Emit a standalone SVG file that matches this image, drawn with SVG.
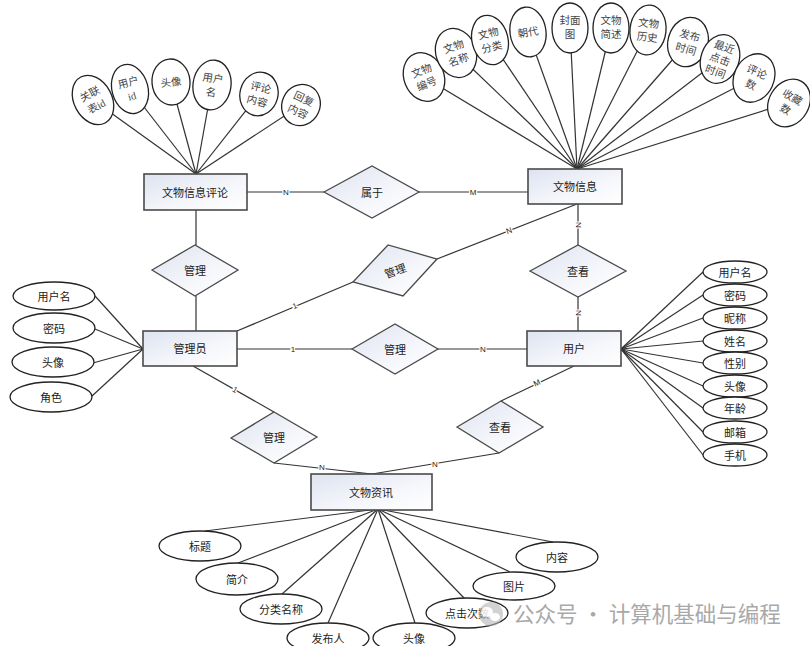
<svg xmlns="http://www.w3.org/2000/svg" width="810" height="646" viewBox="0 0 810 646">
<defs>
<linearGradient id="g" x1="0" y1="0" x2="1" y2="1">
<stop offset="0" stop-color="#dde3f0"/>
<stop offset="0.6" stop-color="#f6f7fb"/>
<stop offset="1" stop-color="#ffffff"/>
</linearGradient>
<style>
.box{fill:url(#g);stroke:#4a4a4a;stroke-width:1.6}
.dia{fill:url(#g);stroke:#4a4a4a;stroke-width:1.3}
.att{fill:#fff;stroke:#222;stroke-width:1.3}
.ln{stroke:#333;stroke-width:1.2;fill:none}
.t{font-family:"Noto Sans CJK SC","Liberation Sans",sans-serif;font-size:11px;fill:#222;text-anchor:middle;dominant-baseline:central}
.s{font-family:"Liberation Serif","Noto Sans CJK SC",serif;font-size:10.5px;fill:#444;text-anchor:middle}
.c{font-family:"Liberation Sans",sans-serif;font-size:8px;fill:#222;text-anchor:middle;dominant-baseline:central;stroke:#fff;stroke-width:2.5;paint-order:stroke}
.wm{font-family:"Noto Sans CJK SC",sans-serif;font-size:21.5px;fill:#9a9a9a}
</style>
</defs>
<rect width="810" height="646" fill="#fff"/>

<g id="connectors">
<!-- 文物信息评论 attributes -->
<line class="ln" x1="93" y1="100" x2="196" y2="174"/>
<line class="ln" x1="130" y1="89" x2="196" y2="174"/>
<line class="ln" x1="171" y1="82" x2="196" y2="174"/>
<line class="ln" x1="212" y1="85" x2="196" y2="174"/>
<line class="ln" x1="259" y1="94" x2="196" y2="174"/>
<line class="ln" x1="301" y1="105" x2="196" y2="174"/>
<!-- 文物信息 attributes -->
<line class="ln" x1="424" y1="77" x2="577" y2="169"/>
<line class="ln" x1="456" y1="53" x2="577" y2="169"/>
<line class="ln" x1="490" y1="40" x2="577" y2="169"/>
<line class="ln" x1="528" y1="32" x2="577" y2="169"/>
<line class="ln" x1="570" y1="28" x2="577" y2="169"/>
<line class="ln" x1="611" y1="28" x2="577" y2="169"/>
<line class="ln" x1="648" y1="30" x2="577" y2="169"/>
<line class="ln" x1="688" y1="42" x2="577" y2="169"/>
<line class="ln" x1="720" y1="59" x2="577" y2="169"/>
<line class="ln" x1="754" y1="78" x2="577" y2="169"/>
<line class="ln" x1="788" y1="103" x2="577" y2="169"/>
<!-- 管理员 attributes -->
<line class="ln" x1="95" y1="296" x2="143" y2="349"/>
<line class="ln" x1="95" y1="329" x2="143" y2="349"/>
<line class="ln" x1="93" y1="363" x2="143" y2="349"/>
<line class="ln" x1="92" y1="396" x2="143" y2="349"/>
<!-- 用户 attributes -->
<line class="ln" x1="621" y1="349" x2="703" y2="272"/>
<line class="ln" x1="621" y1="349" x2="703" y2="295"/>
<line class="ln" x1="621" y1="349" x2="703" y2="318"/>
<line class="ln" x1="621" y1="349" x2="703" y2="341"/>
<line class="ln" x1="621" y1="349" x2="703" y2="363"/>
<line class="ln" x1="621" y1="349" x2="703" y2="386"/>
<line class="ln" x1="621" y1="349" x2="703" y2="408"/>
<line class="ln" x1="621" y1="349" x2="703" y2="432"/>
<line class="ln" x1="621" y1="349" x2="703" y2="455"/>
<!-- 文物资讯 attributes -->
<line class="ln" x1="378" y1="509" x2="205" y2="531"/>
<line class="ln" x1="378" y1="509" x2="238" y2="563"/>
<line class="ln" x1="378" y1="509" x2="282" y2="594"/>
<line class="ln" x1="378" y1="509" x2="328" y2="623"/>
<line class="ln" x1="378" y1="509" x2="415" y2="623"/>
<line class="ln" x1="378" y1="509" x2="465" y2="599"/>
<line class="ln" x1="378" y1="509" x2="510" y2="572"/>
<line class="ln" x1="378" y1="509" x2="553" y2="542"/>
<!-- relationships -->
<line class="ln" x1="247" y1="192" x2="324" y2="192"/>
<line class="ln" x1="419" y1="192" x2="528" y2="192"/>
<line class="ln" x1="196" y1="210" x2="196" y2="245"/>
<line class="ln" x1="196" y1="296" x2="196" y2="331"/>
<line class="ln" x1="237" y1="331" x2="353" y2="282"/>
<line class="ln" x1="437" y1="259" x2="577" y2="204"/>
<line class="ln" x1="578" y1="204" x2="578" y2="245"/>
<line class="ln" x1="578" y1="297" x2="578" y2="331"/>
<line class="ln" x1="237" y1="349" x2="352" y2="349"/>
<line class="ln" x1="438" y1="349" x2="527" y2="349"/>
<line class="ln" x1="193" y1="366" x2="274" y2="412"/>
<line class="ln" x1="274" y1="463" x2="372" y2="474"/>
<line class="ln" x1="574" y1="366" x2="501" y2="401"/>
<line class="ln" x1="499" y1="453" x2="372" y2="474"/>
<!-- cardinalities -->
<text class="c" x="286" y="192">N</text>
<text class="c" x="473" y="192">M</text>
<text class="c" x="295" y="306" transform="rotate(-22 295 306)">1</text>
<text class="c" x="509" y="231" transform="rotate(-20 509 231)">N</text>
<text class="c" x="578" y="225" transform="rotate(90 578 225)">N</text>
<text class="c" x="578" y="313" transform="rotate(90 578 313)">N</text>
<text class="c" x="293" y="349">1</text>
<text class="c" x="483" y="349">N</text>
<text class="c" x="235" y="390" transform="rotate(30 235 390)">1</text>
<text class="c" x="322" y="467">N</text>
<text class="c" x="537" y="383" transform="rotate(-25 537 383)">M</text>
<text class="c" x="435" y="464">N</text>
</g>

<!-- 文物信息评论 attributes -->
<g id="a_glbid"><ellipse class="att" cx="93" cy="100" rx="19" ry="26" transform="rotate(-28 93 100)"/><text class="s" transform="translate(93 100) rotate(-28)"><tspan x="0" y="-3">关联</tspan><tspan x="0" y="11">表id</tspan></text></g>
<g id="a_yhid"><ellipse class="att" cx="130" cy="89" rx="18" ry="25" transform="rotate(-15 130 89)"/><text class="s" transform="translate(130 89) rotate(-15)"><tspan x="0" y="-3">用户</tspan><tspan x="0" y="11">id</tspan></text></g>
<g id="a_tx1"><ellipse class="att" cx="171" cy="82" rx="19" ry="23" transform="rotate(-5 171 82)"/><text class="s" x="171" y="86" transform="rotate(-5 171 82)">头像</text></g>
<g id="a_yhm1"><ellipse class="att" cx="212" cy="85" rx="19" ry="25" transform="rotate(8 212 85)"/><text class="s" transform="translate(212 85) rotate(8)"><tspan x="0" y="-3">用户</tspan><tspan x="0" y="11">名</tspan></text></g>
<g id="a_plnr"><ellipse class="att" cx="259" cy="94" rx="19" ry="22" transform="rotate(15 259 94)"/><text class="s" transform="translate(259 94) rotate(15)"><tspan x="0" y="-3">评论</tspan><tspan x="0" y="11">内容</tspan></text></g>
<g id="a_hfnr"><ellipse class="att" cx="301" cy="105" rx="19" ry="21" transform="rotate(25 301 105)"/><text class="s" transform="translate(301 105) rotate(25)"><tspan x="0" y="-3">回复</tspan><tspan x="0" y="11">内容</tspan></text></g>

<!-- 文物信息 attributes -->
<g id="a_wwbh"><ellipse class="att" cx="424" cy="77" rx="20" ry="25" transform="rotate(-22 424 77)"/><text class="s" transform="translate(424 77) rotate(-22)"><tspan x="0" y="-3">文物</tspan><tspan x="0" y="11">编号</tspan></text></g>
<g id="a_wwmc"><ellipse class="att" cx="456" cy="53" rx="20" ry="25" transform="rotate(-20 456 53)"/><text class="s" transform="translate(456 53) rotate(-20)"><tspan x="0" y="-3">文物</tspan><tspan x="0" y="11">名称</tspan></text></g>
<g id="a_wwfl"><ellipse class="att" cx="490" cy="40" rx="18" ry="25" transform="rotate(-14 490 40)"/><text class="s" transform="translate(490 40) rotate(-14)"><tspan x="0" y="-3">文物</tspan><tspan x="0" y="11">分类</tspan></text></g>
<g id="a_cd"><ellipse class="att" cx="528" cy="32" rx="18" ry="25" transform="rotate(-8 528 32)"/><text class="s" x="528" y="36" transform="rotate(-8 528 32)">朝代</text></g>
<g id="a_fmt"><ellipse class="att" cx="570" cy="28" rx="18" ry="25"/><text class="s"><tspan x="570" y="24">封面</tspan><tspan x="570" y="38">图</tspan></text></g>
<g id="a_wwjs"><ellipse class="att" cx="611" cy="28" rx="18" ry="25"/><text class="s"><tspan x="611" y="24">文物</tspan><tspan x="611" y="38">简述</tspan></text></g>
<g id="a_wwls"><ellipse class="att" cx="648" cy="30" rx="18" ry="25" transform="rotate(6 648 30)"/><text class="s" transform="translate(648 30) rotate(6)"><tspan x="0" y="-3">文物</tspan><tspan x="0" y="11">历史</tspan></text></g>
<g id="a_fbsj"><ellipse class="att" cx="688" cy="42" rx="20" ry="25" transform="rotate(16 688 42)"/><text class="s" transform="translate(688 42) rotate(16)"><tspan x="0" y="-3">发布</tspan><tspan x="0" y="11">时间</tspan></text></g>
<g id="a_zjdjsj"><ellipse class="att" cx="720" cy="59" rx="19" ry="25" transform="rotate(20 720 59)"/><text class="s" transform="translate(720 59) rotate(20)"><tspan x="0" y="-9">最近</tspan><tspan x="0" y="4">点击</tspan><tspan x="0" y="17">时间</tspan></text></g>
<g id="a_pls"><ellipse class="att" cx="754" cy="78" rx="20" ry="25" transform="rotate(25 754 78)"/><text class="s" transform="translate(754 78) rotate(25)"><tspan x="0" y="-3">评论</tspan><tspan x="0" y="11">数</tspan></text></g>
<g id="a_scs"><ellipse class="att" cx="789" cy="103" rx="20" ry="25" transform="rotate(30 789 103)"/><text class="s" transform="translate(789 103) rotate(30)"><tspan x="0" y="-3">收藏</tspan><tspan x="0" y="11">数</tspan></text></g>

<!-- 管理员 attributes -->
<g id="m_yhm"><ellipse class="att" cx="54" cy="296" rx="41" ry="14"/><text class="t" x="54" y="296">用户名</text></g>
<g id="m_mm"><ellipse class="att" cx="54" cy="328" rx="41" ry="15"/><text class="t" x="54" y="328">密码</text></g>
<g id="m_tx"><ellipse class="att" cx="53" cy="362" rx="41" ry="15"/><text class="t" x="53" y="362">头像</text></g>
<g id="m_js"><ellipse class="att" cx="51" cy="397" rx="41" ry="15"/><text class="t" x="51" y="397">角色</text></g>

<!-- 用户 attributes -->
<g id="u_yhm"><ellipse class="att" cx="735" cy="272" rx="32" ry="11"/><text class="t" x="735" y="272">用户名</text></g>
<g id="u_mm"><ellipse class="att" cx="735" cy="295" rx="32" ry="11"/><text class="t" x="735" y="295">密码</text></g>
<g id="u_nc"><ellipse class="att" cx="735" cy="318" rx="32" ry="11"/><text class="t" x="735" y="318">昵称</text></g>
<g id="u_xm"><ellipse class="att" cx="735" cy="341" rx="32" ry="11"/><text class="t" x="735" y="341">姓名</text></g>
<g id="u_xb"><ellipse class="att" cx="735" cy="363" rx="32" ry="11"/><text class="t" x="735" y="363">性别</text></g>
<g id="u_tx"><ellipse class="att" cx="735" cy="386" rx="32" ry="11"/><text class="t" x="735" y="386">头像</text></g>
<g id="u_nl"><ellipse class="att" cx="735" cy="408" rx="32" ry="11"/><text class="t" x="735" y="408">年龄</text></g>
<g id="u_yx"><ellipse class="att" cx="735" cy="432" rx="32" ry="11"/><text class="t" x="735" y="432">邮箱</text></g>
<g id="u_sj"><ellipse class="att" cx="735" cy="455" rx="32" ry="11"/><text class="t" x="735" y="455">手机</text></g>

<!-- 文物资讯 attributes -->
<g id="n_bt"><ellipse class="att" cx="200" cy="546" rx="41" ry="15"/><text class="t" x="200" y="546">标题</text></g>
<g id="n_jj"><ellipse class="att" cx="237" cy="579" rx="41" ry="16"/><text class="t" x="237" y="579">简介</text></g>
<g id="n_flmc"><ellipse class="att" cx="281" cy="609" rx="41" ry="15"/><text class="t" x="281" y="609">分类名称</text></g>
<g id="n_fbr"><ellipse class="att" cx="328" cy="638" rx="41" ry="15"/><text class="t" x="328" y="638">发布人</text></g>
<g id="n_tx"><ellipse class="att" cx="414" cy="638" rx="41" ry="15"/><text class="t" x="414" y="638">头像</text></g>
<g id="n_djcs"><ellipse class="att" cx="467" cy="613" rx="41" ry="15"/><text class="t" x="467" y="613">点击次数</text></g>
<g id="n_tp"><ellipse class="att" cx="514" cy="586" rx="41" ry="14"/><text class="t" x="514" y="586">图片</text></g>
<g id="n_nr"><ellipse class="att" cx="557" cy="557" rx="41" ry="15"/><text class="t" x="557" y="557">内容</text></g>

<!-- entities -->
<g id="e_wwxxpl"><rect class="box" x="144" y="174" width="103" height="36"/><text class="t" x="195" y="192">文物信息评论</text></g>
<g id="e_wwxx"><rect class="box" x="528" y="169" width="94" height="35"/><text class="t" x="575" y="186">文物信息</text></g>
<g id="e_gly"><rect class="box" x="143" y="331" width="94" height="35"/><text class="t" x="190" y="348">管理员</text></g>
<g id="e_yh"><rect class="box" x="527" y="331" width="94" height="35"/><text class="t" x="574" y="348">用户</text></g>
<g id="e_wwzx"><rect class="box" x="311" y="474" width="121" height="36"/><text class="t" x="371" y="492">文物资讯</text></g>

<!-- relationships -->
<g id="r_sy"><polygon class="dia" points="324,192 372,166 419,192 372,218"/><text class="t" x="372" y="192">属于</text></g>
<g id="r_gl1"><polygon class="dia" points="152,270 195,245 238,270 195,296"/><text class="t" x="195" y="270">管理</text></g>
<g id="r_gl2"><polygon class="dia" points="353,282 388,245 437,259 403,296"/><text class="t" x="395" y="270" transform="rotate(-20 395 270)">管理</text></g>
<g id="r_ck1"><polygon class="dia" points="530,271 578,245 626,271 578,297"/><text class="t" x="578" y="271">查看</text></g>
<g id="r_gl3"><polygon class="dia" points="352,349 395,324 438,349 395,374"/><text class="t" x="395" y="349">管理</text></g>
<g id="r_gl4"><polygon class="dia" points="231,438 274,412 317,437 274,463"/><text class="t" x="274" y="437">管理</text></g>
<g id="r_ck2"><polygon class="dia" points="457,427 501,401 543,427 499,453"/><text class="t" x="500" y="427">查看</text></g>

<!-- watermark -->
<g id="watermark" opacity="0.85">
<circle cx="491" cy="614" r="12" fill="#b5b5b5" opacity="0.7"/>
<ellipse cx="487" cy="612" rx="6" ry="5" fill="#fff"/>
<ellipse cx="495" cy="617" rx="5" ry="4" fill="#fff"/>
<text class="wm" x="513" y="622">公众号 · 计算机基础与编程</text>
</g>
</svg>
